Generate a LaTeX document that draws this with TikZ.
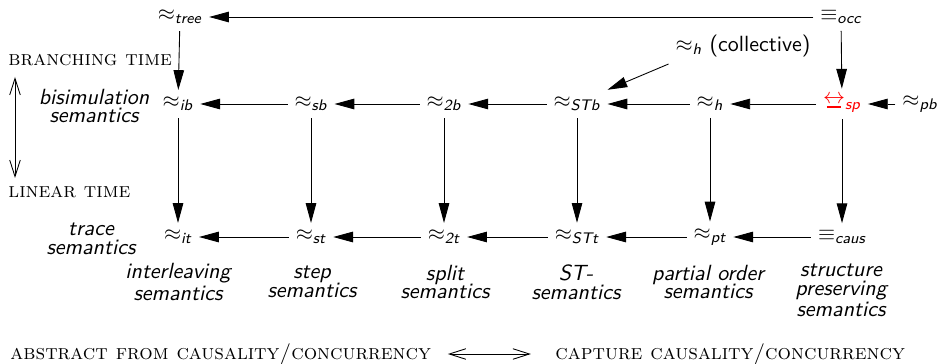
\documentclass[tikz,border=0pt]{standalone}
\usepackage{amsmath,amssymb}
\usepackage{xcolor}
\usepackage{tikz}
\usetikzlibrary{positioning,arrows.meta}
\newcommand{\semrel}[2]{$#1_{\textsf{\itshape #2}}$}
\newcommand{\bisimsym}{\mathrel{\vtop{\offinterlineskip\halign{\hfil##\hfil\cr$\leftrightarrow$\cr\noalign{\kern1.2pt}\rule{6.5pt}{0.8pt}\cr}}}}

\begin{document}
\begin{tikzpicture}[x=0.455pt, y=-0.455pt, inner sep=3pt,
  sem/.style={font=\fontsize{10}{8.6}\selectfont\sffamily\itshape, align=center},
  sidelabel/.style={font=\fontsize{9.6}{11}\selectfont\scshape, anchor=west, inner sep=0pt},
  imp/.style={-{Triangle[length=9pt,width=4.8pt]}},
  timearrow/.style={{Straight Barb[length=7.5pt,width=4.8pt]}-{Straight Barb[length=7.5pt,width=4.8pt]}}]
\useasboundingbox (0,0) rectangle (940,364);
% top row
\node (tree) at (180,17) {\semrel{\approx}{tree}};
\node (occ) at (841,17) {\semrel{\equiv}{occ}};
\node (hcol) at (743,46) {\semrel{\approx}{h} \textsf{(collective)}};
% bisimulation row
\node (ib) at (178,104) {\semrel{\approx}{ib}};
\node (sb) at (311,104) {\semrel{\approx}{sb}};
\node (twob) at (444,104) {\semrel{\approx}{2b}};
\node (STb) at (577,104) {\semrel{\approx}{STb}};
\node (h) at (710,104) {\semrel{\approx}{h}};
\node[red] (sp) at (842,104) {\semrel{\bisimsym}{sp}};
\node (pb) at (920,104) {\semrel{\approx}{pb}};
% trace row
\node (it) at (178,237) {\semrel{\approx}{it}};
\node (st) at (311,237) {\semrel{\approx}{st}};
\node (twot) at (444,237) {\semrel{\approx}{2t}};
\node (STt) at (577,237) {\semrel{\approx}{STt}};
\node (pt) at (710,237) {\semrel{\approx}{pt}};
\node (caus) at (842,237) {\semrel{\equiv}{caus}};
% arrows
\draw[imp] (occ) -- (tree);
\draw[imp] (tree) -- (ib);
\draw[imp] (occ) -- (sp);
\draw[imp] (hcol.south west) -- (STb.north east);
\draw[imp] (sb) -- (ib);
\draw[imp] (twob) -- (sb);
\draw[imp] (STb) -- (twob);
\draw[imp] (h) -- (STb);
\draw[imp] (sp) -- (h);
\draw[imp] (pb) -- (sp);
\draw[imp] (ib) -- (it);
\draw[imp] (sb) -- (st);
\draw[imp] (twob) -- (twot);
\draw[imp] (STb) -- (STt);
\draw[imp] (h) -- (pt);
\draw[imp] (sp) -- (caus);
\draw[imp] (st) -- (it);
\draw[imp] (twot) -- (st);
\draw[imp] (STt) -- (twot);
\draw[imp] (pt) -- (STt);
\draw[imp] (caus) -- (pt);
% descriptions
\node[sem] (bisim) at (94,106) {bisimulation\\semantics};
\node[sem] (trace) at (91,239) {trace\\semantics};
\node[sem] (inter) at (178,282) {interleaving\\semantics};
\node[sem] (step) at (312,282) {step\\semantics};
\node[sem] (split) at (445,282) {split\\semantics};
\node[sem] (stsem) at (576,282) {ST-\\semantics};
\node[sem] (po) at (708,282) {partial order\\semantics};
\node[sem] (struct) at (841,290) {structure\\preserving\\semantics};
% time axis
\node[sidelabel] (branch) at (8,60) {branching time};
\node[sidelabel] (linear) at (8,192) {linear time};
\coordinate (tup) at (15,77);
\coordinate (tdown) at (15,178);
\draw[timearrow] (tup) -- (tdown);
% causality axis
\node[sidelabel] (abstr) at (10,354) {abstract from causality/concurrency};
\node[sidelabel] (capt) at (555,354) {capture causality/concurrency};
\draw[timearrow, shorten <=7.5pt, shorten >=11pt] (abstr.east) -- (capt.west);
\end{tikzpicture}
\end{document}
